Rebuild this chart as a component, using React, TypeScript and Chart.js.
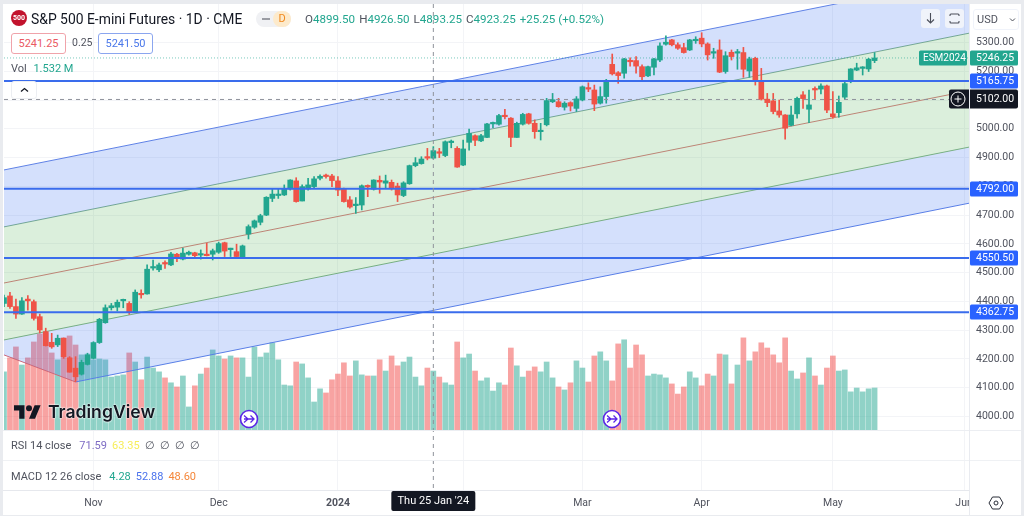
import React, { useEffect, useRef } from "react";
import { Chart, registerables } from "chart.js";

Chart.register(...registerables);

const sessionDays: [string, number[]][] = [
  ["Oct", [11, 12, 13, 16, 17, 18, 19, 20, 23, 24, 25, 26, 27, 30, 31]],
  ["Nov", [1, 2, 3, 6, 7, 8, 9, 10, 13, 14, 15, 16, 17, 20, 21, 22, 24, 27, 28, 29, 30]],
  ["Dec", [1, 4, 5, 6, 7, 8, 11, 12, 13, 14, 15, 18, 19, 20, 21, 22, 26, 27, 28, 29]],
  ["Jan", [2, 3, 4, 5, 8, 9, 10, 11, 12, 16, 17, 18, 19, 22, 23, 24, 25, 26, 29, 30, 31]],
  ["Feb", [1, 2, 5, 6, 7, 8, 9, 12, 13, 14, 15, 16, 20, 21, 22, 23, 26, 27, 28, 29]],
  ["Mar", [1, 4, 5, 6, 7, 8, 11, 12, 13, 14, 15, 18, 19, 20, 21, 22, 25, 26, 27, 28]],
  ["Apr", [1, 2, 3, 4, 5, 8, 9, 10, 11, 12, 15, 16, 17, 18, 19, 22, 23, 24, 25, 26, 29, 30]],
  ["May", [1, 2, 3, 6, 7, 8, 9, 10, 13, 14, 15, 16, 17, 20, 21, 22, 23, 24, 28, 29, 30, 31]],
  ["Jun", [3, 4]],
];
const dateLabels = sessionDays.flatMap(([m, days]) => days.map((d) => `${m} ${d}`));

const tickDates = ["Nov 1", "Dec 1", "Jan 2", "Feb 1", "Mar 1", "Apr 1", "May 1", "Jun 3"];
const tickNames = ["Nov", "Dec", "2024", "Feb", "Mar", "Apr", "May", "Jun"];
const priceTicks = [4000, 4100, 4200, 4300, 4400, 4500, 4600, 4700, 4800, 4900, 5000, 5100, 5200, 5300];

const opens = [
  4393,4419,4382,4356,4408,4399,4347,4295,4258,4249,
  4272,4204,4168,4147,4181,4202,4257,4326,4378,4380,
  4402,4393,4364,4426,4426,4516,4510,4533,4527,4564,
  4547,4564,4569,4561,4564,4564,4571,4604,4580,4573,
  4553,4634,4658,4675,4700,4758,4768,4770,4791,4819,
  4749,4791,4799,4828,4836,4836,4819,4793,4753,4733,
  4735,4801,4790,4821,4811,4814,4801,4768,4809,4872,
  4879,4900,4898,4917,4907,4952,4932,4874,4953,4976,
  4958,4970,5017,5016,5045,5037,4970,5016,5052,5019,
  4990,5014,5094,5094,5075,5091,5071,5100,5141,5135,
  5089,5112,5224,5195,5193,5238,5237,5216,5184,5214,
  5239,5294,5309,5292,5282,5274,5306,5315,5295,5263,
  5274,5199,5266,5263,5265,5201,5245,5167,5103,5097,
  5062,5048,5012,5052,5118,5068,5137,5138,5149,5052,
  5056,5110,5167,5204,5210,5208,5237,
];
const highs = [
  4422,4432,4408,4413,4420,4405,4356,4307,4289,4283,
  4273,4208,4208,4196,4220,4260,4341,4388,4393,4405,
  4408,4399,4440,4440,4527,4544,4533,4541,4571,4567,
  4585,4575,4571,4579,4602,4582,4606,4606,4585,4599,
  4596,4666,4683,4703,4764,4791,4791,4805,4823,4830,
  4805,4828,4834,4840,4843,4842,4834,4794,4764,4761,
  4805,4805,4823,4836,4839,4822,4811,4816,4874,4900,
  4903,4932,4938,4932,4958,4961,4938,4961,4999,4979,
  4981,5019,5023,5050,5068,5039,5023,5054,5054,5031,
  5019,5106,5123,5106,5094,5094,5112,5149,5160,5152,
  5146,5172,5260,5199,5245,5247,5251,5222,5218,5245,
  5299,5323,5311,5299,5297,5311,5320,5334,5299,5280,
  5309,5268,5274,5276,5283,5249,5249,5210,5123,5123,
  5100,5049,5079,5110,5129,5135,5146,5156,5152,5129,
  5114,5167,5209,5228,5216,5245,5265,
];
const lows = [
  4382,4376,4341,4355,4370,4335,4290,4245,4237,4243,
  4202,4154,4121,4144,4179,4200,4254,4324,4370,4367,
  4378,4355,4362,4411,4425,4509,4503,4515,4524,4538,
  4544,4561,4550,4547,4558,4544,4567,4556,4556,4552,
  4552,4617,4654,4666,4698,4747,4758,4768,4787,4745,
  4749,4787,4795,4822,4828,4799,4768,4745,4724,4706,
  4718,4764,4787,4776,4793,4787,4747,4764,4807,4868,
  4877,4892,4895,4900,4903,4934,4866,4872,4926,4941,
  4955,4969,5004,5013,5034,4938,4970,5013,5016,4967,
  4961,5010,5091,5075,5065,5062,5060,5097,5129,5063,
  5086,5089,5187,5158,5176,5218,5193,5170,5181,5187,
  5233,5291,5288,5276,5263,5272,5297,5285,5239,5245,
  5195,5193,5239,5207,5179,5179,5152,5100,5077,5052,
  5040,4964,5010,5037,5071,5021,5103,5121,5056,5037,
  5040,5103,5160,5202,5187,5199,5230,
];
const closes = [
  4413,4382,4356,4402,4402,4341,4301,4246,4242,4272,
  4208,4154,4138,4188,4214,4257,4338,4378,4385,4397,
  4404,4362,4432,4423,4512,4521,4527,4530,4565,4550,
  4568,4571,4559,4564,4559,4576,4601,4575,4582,4556,
  4593,4660,4680,4698,4762,4773,4772,4793,4822,4747,
  4799,4805,4826,4835,4834,4820,4787,4747,4728,4735,
  4802,4798,4822,4815,4819,4795,4770,4812,4872,4882,
  4895,4898,4924,4915,4955,4954,4867,4930,4984,4960,
  4976,5017,5019,5046,5042,4970,5019,5050,5019,4990,
  4995,5098,5101,5077,5089,5079,5104,5146,5138,5086,
  5112,5162,5191,5185,5243,5233,5218,5181,5216,5243,
  5288,5301,5292,5280,5265,5309,5309,5295,5257,5267,
  5197,5254,5251,5265,5207,5243,5167,5103,5091,5060,
  5048,5002,5048,5106,5105,5083,5135,5149,5065,5042,
  5092,5157,5208,5212,5212,5242,5246.25,
];
const volumes = [
  2.12,2.63,3.03,2.37,2.63,3.21,3.5,3.54,2.81,2.56,3.36,3.43,3.1,2.74,2.77,2.56,2.59,2.56,1.93,1.97,2.01,2.81,2.48,1.83,2.66,2.26,2.12,
  1.9,1.72,1.57,1.97,0.84,1.61,2.04,2.26,2.92,2.7,2.59,2.7,2.63,2.63,1.93,3.03,2.66,2.81,3.18,2.56,1.64,1.61,2.48,2.41,1.9,1.02,1.5,1.35,1.83,2.04,
  2.45,1.97,2.52,2.01,1.97,1.97,2.56,2.15,2.7,2.34,2.48,2.66,1.93,1.61,2.26,2.15,1.93,1.72,1.64,3.21,2.63,2.77,2.15,1.79,1.9,1.42,1.72,1.64,2.99,2.34,1.93,2.15,2.3,2.12,2.48,1.9,1.57,1.46,1.72,2.52,2.26,1.75,2.7,2.85,2.52,1.79,3.14,3.29,2.26,3.1,2.74,1.97,2.04,2.01,1.9,1.68,1.31,
  1.57,2.12,1.9,1.61,2.04,1.97,2.77,2.74,1.68,2.37,3.36,2.52,2.85,3.18,2.99,2.74,2.45,3.36,2.15,1.86,2.08,2.63,1.97,1.64,2.26,2.7,2.15,2.19,1.39,1.53,1.39,1.5,1.532,
];

const channelDates = ["Oct 11", "Jun 4"];
const upperBlue = [4857, 5527];
const upperGreen = [4659, 5333];
const midLine = [4464, 5133];
const lowerGreen = [4266, 4937];
const lowerBlueDates = ["Oct 11", "Oct 27", "Jun 4"];
const lowerBlue = [4214, 4120, 4742];
const levelValues = [5165.75, 4792, 4550.5, 4362.75];
const lastPrice = 5246.25;
const crossPrice = 5102;
const crossDate = "Jan 25";
const crossDateLabel = "Thu 25 Jan '24";
const pairs = (dates: string[], vals: number[]) => dates.map((x, i) => ({ x, y: vals[i] }));

const UP = "#22a68f";
const DOWN = "#ef5347";
const FONT = "Roboto, sans-serif";

const overlayPlugin = {
  id: "overlay",
  afterDatasetsDraw(chart: any) {
    const { ctx, chartArea, scales } = chart;
    const xPix = scales.x.getPixelForValue(dateLabels.indexOf(crossDate));
    ctx.save();
    ctx.strokeStyle = "#8f929b";
    ctx.lineWidth = 1;
    ctx.setLineDash([4, 4]);
    ctx.beginPath();
    ctx.moveTo(xPix, chartArea.top);
    ctx.lineTo(xPix, chartArea.bottom);
    ctx.stroke();
    ctx.restore();
  },
  afterDraw(chart: any) {
    const { ctx, scales } = chart;
    const y = scales.y;
    ctx.save();
    ctx.textBaseline = "middle";
    ctx.textAlign = "left";
    ctx.font = `10.5px ${FONT}`;
    const tag = (value: number, text: string, color: string, left = 970) => {
      const py = Math.round(y.getPixelForValue(value));
      ctx.fillStyle = color;
      ctx.beginPath();
      ctx.roundRect(left, py - 7.5, 1018 - left, 15, 1.5);
      ctx.fill();
      ctx.fillStyle = "#fff";
      ctx.fillText(text, 976, py + 0.5);
    };
    levelValues.forEach((v) => tag(v, v.toFixed(2), "#2962ff"));
    // last price + symbol
    const lastY = Math.round(y.getPixelForValue(lastPrice));
    ctx.fillStyle = UP;
    ctx.beginPath();
    ctx.roundRect(919, lastY - 7.5, 48, 15, 1.5);
    ctx.fill();
    ctx.fillStyle = "#fff";
    ctx.font = `10px ${FONT}`;
    ctx.fillText("ESM2024", 923, lastY + 0.5);
    ctx.font = `10.5px ${FONT}`;
    tag(lastPrice, lastPrice.toFixed(2), UP);
    // crosshair price
    const cy = Math.round(y.getPixelForValue(crossPrice));
    ctx.fillStyle = "#131722";
    ctx.beginPath();
    ctx.roundRect(949, cy - 9.5, 69, 19, 2);
    ctx.fill();
    ctx.fillStyle = "#fff";
    ctx.fillText(crossPrice.toFixed(2), 976, cy + 0.5);
    ctx.strokeStyle = "#fff";
    ctx.lineWidth = 1;
    ctx.beginPath();
    ctx.arc(958, cy, 7, 0, Math.PI * 2);
    ctx.moveTo(954.5, cy);
    ctx.lineTo(961.5, cy);
    ctx.moveTo(958, cy - 3.5);
    ctx.lineTo(958, cy + 3.5);
    ctx.stroke();
    // crosshair date
    const xPix = scales.x.getPixelForValue(dateLabels.indexOf(crossDate));
    ctx.fillStyle = "#131722";
    ctx.beginPath();
    ctx.roundRect(xPix - 42, 491, 84, 20, 2);
    ctx.fill();
    ctx.fillStyle = "#fff";
    ctx.textAlign = "center";
    ctx.font = `11px ${FONT}`;
    ctx.fillText(crossDateLabel, xPix, 501.5);
    ctx.restore();
  },
};

const abs = (left: number, top: number, extra: React.CSSProperties = {}): React.CSSProperties => ({
  position: "absolute",
  left,
  top,
  whiteSpace: "nowrap",
  ...extra,
});

const SplitIcon = ({ x }: { x: number }) => (
  <svg style={abs(x - 10, 409)} width="20" height="20" viewBox="0 0 20 20">
    <circle cx="10" cy="10" r="8.5" fill="#fff" stroke="#5b26e6" strokeWidth="1.6" />
    <path d="M5 6.5 L9 10 L5 13.5 M5 10 H14.5 M11.5 6.5 L15 10 L11.5 13.5" fill="none" stroke="#5b26e6" strokeWidth="1.3" />
  </svg>
);

export default function App() {
  const ref = useRef<HTMLCanvasElement>(null);
  useEffect(() => {
    const line = (data: any, color: string, extra: any = {}) => ({
      type: "line",
      data,
      borderColor: color,
      borderWidth: 1,
      pointRadius: 0,
      pointHoverRadius: 0,
      tension: 0,
      fill: false,
      order: 3,
      yAxisID: "y",
      ...extra,
    });
    const candleColor = (i: number) => (closes[i] >= opens[i] ? UP : DOWN);
    const chart = new Chart(ref.current!, {
      type: "bar",
      data: {
        labels: dateLabels,
        datasets: [
          {
            label: "Volume",
            data: volumes,
            yAxisID: "vol",
            order: 6,
            maxBarThickness: 5,
            backgroundColor: volumes.map((_, i) => (closes[i] >= opens[i] ? "rgba(34,166,143,0.5)" : "rgba(242,72,70,0.5)")),
          },
          line(pairs(channelDates, upperBlue), "#5f82e6", { label: "Upper channel", fill: "+1", backgroundColor: "rgba(41,98,240,0.2)" }),
          line(pairs(channelDates, upperGreen), "#7daf8b", { label: "Upper band", fill: "+1", backgroundColor: "rgba(76,175,80,0.2)" }),
          line(pairs(channelDates, midLine), "#c9807a", { label: "Mid line", fill: "+1", backgroundColor: "rgba(76,175,80,0.2)" }),
          line(pairs(channelDates, lowerGreen), "#7daf8b", { label: "Lower band", fill: "+1", backgroundColor: "rgba(41,98,240,0.2)" }),
          line(pairs(lowerBlueDates, lowerBlue), "#5f82e6", {
            label: "Lower channel",
            segment: { borderColor: (c: any) => (c.p0DataIndex === 0 ? "#e0696c" : "#5f82e6") },
          }),
          line(pairs(channelDates, [crossPrice, crossPrice]), "#8f929b", { label: "Crosshair", borderDash: [4, 4], order: 2 }),
          line(pairs(channelDates, [lastPrice, lastPrice]), "rgba(34,166,143,0.6)", { label: "Last", borderDash: [1, 2], order: 2 }),
          ...levelValues.map((v) =>
            line(pairs(channelDates, [v, v]), "#3a6cec", { label: `Level ${v}`, borderWidth: 2, order: 0 })
          ),
          {
            label: "Wicks",
            data: lows.map((l, i) => [l, highs[i]]),
            yAxisID: "y",
            order: 2,
            maxBarThickness: 1,
            backgroundColor: lows.map((_, i) => candleColor(i)),
          },
          {
            label: "Bodies",
            data: opens.map((o, i) => [o, closes[i]]),
            yAxisID: "y",
            order: 1,
            maxBarThickness: 5,
            minBarLength: 1.5,
            backgroundColor: opens.map((_, i) => candleColor(i)),
          },
        ] as any,
      },
      options: {
        animation: false,
        responsive: false,
        devicePixelRatio: 1,
        layout: { padding: { left: 4, top: 4, right: 0, bottom: 0 } },
        datasets: { bar: { grouped: false, categoryPercentage: 1, barPercentage: 1 } },
        plugins: { legend: { display: false }, tooltip: { enabled: false } },
        scales: {
          x: {
            type: "category",
            offset: false,
            border: { display: false },
            grid: { offset: false, color: "#f3f4f7", drawTicks: false },
            afterBuildTicks: (s: any) => {
              s.ticks = s.ticks.filter((t: any) => tickDates.includes(dateLabels[t.value]));
            },
            afterFit: (s: any) => {
              s.height = 26;
              s.paddingLeft = 0;
              s.paddingRight = 0;
            },
            ticks: {
              autoSkip: false,
              maxRotation: 0,
              padding: 7,
              color: "#50535e",
              font: (c: any) => ({ family: "Roboto", size: 10.5, weight: c.tick && c.tick.label === "2024" ? "bold" : "normal" }),
              callback: (v: any) => tickNames[tickDates.indexOf(dateLabels[v])],
            },
          },
          y: {
            position: "right",
            min: 3744.5,
            max: 5433.8,
            border: { display: false },
            grid: { color: "#f3f4f7", drawTicks: false },
            afterBuildTicks: (s: any) => {
              s.ticks = priceTicks.map((value) => ({ value }));
            },
            afterFit: (s: any) => {
              s.width = 54;
              s.paddingTop = 0;
              s.paddingBottom = 0;
            },
            ticks: {
              padding: 6,
              color: "#50535e",
              font: { family: "Roboto", size: 10.5 },
              callback: (v: any) => Number(v).toFixed(2),
            },
          },
          vol: { display: false, min: -2.19, max: 15.54 },
        },
      } as any,
      plugins: [overlayPlugin],
    });
    return () => chart.destroy();
  }, []);

  const g = "#22a68f";
  const ohlc = [
    ["O", "4899.50"],
    ["H", "4926.50"],
    ["L", "4893.25"],
    ["C", "4923.25"],
  ];
  return (
    <div style={{ position: "absolute", left: 0, top: 0, width: 1024, height: 516, background: "#e9ebef", overflow: "hidden", fontFamily: FONT, color: "#131722" }}>
      <div style={abs(3, 4, { width: 1018, height: 511, background: "#fff" })} />
      <canvas ref={ref} width={1024} height={516} style={{ position: "absolute", left: 0, top: 0, width: 1024, height: 516 }} />
      {/* frame masks */}
      <div style={abs(0, 0, { width: 3, height: 516, background: "#e9ebef" })} />
      <div style={abs(1021, 0, { width: 3, height: 516, background: "#e9ebef" })} />
      <div style={abs(0, 0, { width: 1024, height: 4, background: "#e9ebef" })} />
      <div style={abs(0, 515, { width: 1024, height: 1, background: "#e9ebef" })} />
      {/* pane separators */}
      <div style={abs(3, 430, { width: 1018, height: 1, background: "#eceef2" })} />
      <div style={abs(3, 460, { width: 1018, height: 1, background: "#eff1f4" })} />
      <div style={abs(3, 490, { width: 966, height: 1, background: "#e6e8ed" })} />
      <div style={abs(969, 4, { width: 1, height: 511, background: "#e9ebf0" })} />

      {/* header */}
      <div style={abs(11, 10, { width: 16, height: 16, borderRadius: 8, background: "#c2132d", color: "#fff", fontSize: 7, fontWeight: 700, lineHeight: "16px", textAlign: "center" })}>500</div>
      <div style={abs(31, 11, { fontSize: 13.9, lineHeight: "17px" })}>S&amp;P 500 E-mini Futures · 1D · CME</div>
      <div style={abs(256, 11, { width: 35, height: 16, borderRadius: 8, background: "#f0f1f4" })} />
      <div style={abs(273, 11, { width: 18, height: 16, borderRadius: 8, background: "#fdeacb", color: "#f0881e", fontSize: 11, lineHeight: "16px", textAlign: "center" })}>D</div>
      <div style={abs(262, 18, { width: 8, height: 2, background: "#9a9ca3" })} />
      <div style={abs(305, 12, { fontSize: 11.6, lineHeight: "14px", display: "flex", gap: 4 })}>
        {ohlc.map(([k, v]) => (
          <span key={k}>
            <span style={{ color: "#50535e" }}>{k}</span>
            <span style={{ color: g }}>{v}</span>
          </span>
        ))}
        <span style={{ color: g }}>+25.25 (+0.52%)</span>
      </div>
      <div style={abs(11, 33, { width: 53, height: 19, border: "1px solid #f0a3aa", borderRadius: 3, background: "#fff", color: "#ea5a63", fontSize: 11, lineHeight: "19px", textAlign: "center" })}>5241.25</div>
      <div style={abs(72, 36, { fontSize: 10.5, lineHeight: "14px", color: "#50535e" })}>0.25</div>
      <div style={abs(98, 33, { width: 53, height: 19, border: "1px solid #8ba6ef", borderRadius: 3, background: "#fff", color: "#4a78ea", fontSize: 11, lineHeight: "19px", textAlign: "center" })}>5241.50</div>
      <div style={abs(11, 62, { fontSize: 11, lineHeight: "14px", color: "#50535e" })}>
        Vol <span style={{ color: g, marginLeft: 4 }}>1.532 M</span>
      </div>
      <div style={abs(11, 81, { width: 24, height: 16, border: "1px solid #eceef2", borderRadius: 3, background: "#fff" })}>
        <svg width="24" height="16" viewBox="0 0 24 16"><path d="M9 9.5 L12.5 6.5 L16 9.5" fill="none" stroke="#131722" strokeWidth="1.3" /></svg>
      </div>

      {/* top right controls */}
      <div style={abs(921, 9, { width: 19, height: 19, borderRadius: 3, background: "#f0f3fa" })}>
        <svg width="19" height="19" viewBox="0 0 19 19"><path d="M9.5 4 V14 M6 10.5 L9.5 14 L13 10.5" fill="none" stroke="#4a4e59" strokeWidth="1.1" /></svg>
      </div>
      <div style={abs(945, 9, { width: 19, height: 19, borderRadius: 3, background: "#f0f3fa" })}>
        <svg width="19" height="19" viewBox="0 0 19 19"><path d="M5 7 V6 Q5 5 6 5 H13 Q14 5 14 6 V7 M5 12 V13 Q5 14 6 14 H13 Q14 14 14 13 V12" fill="none" stroke="#4a4e59" strokeWidth="1.1" /></svg>
      </div>
      <div style={abs(973, 9, { width: 44, height: 19, border: "1px solid #f0f3fa", borderRadius: 3, background: "#fff" })}>
        <span style={abs(3, 0, { fontSize: 11, lineHeight: "20px", color: "#50535e" })}>USD</span>
        <svg style={abs(35, 7)} width="7" height="6" viewBox="0 0 7 6"><path d="M1 1.5 L3.5 4 L6 1.5" fill="none" stroke="#50535e" strokeWidth="1" /></svg>
      </div>

      {/* watermark */}
      <svg style={abs(14, 405)} width="27" height="14" viewBox="0 4 36 18"><path d="M14 22H7V11H0V4h14v18zM28 22h-8l7.5-18h8L28 22z" fill="#131722" /><circle cx="20" cy="8" r="4" fill="#131722" /></svg>
      <div style={abs(48, 402, { fontFamily: "Inter, sans-serif", fontSize: 17.6, fontWeight: 600, lineHeight: "20px", color: "#131722", textShadow: "0 0 2px #fff, 0 0 2px #fff" })}>TradingView</div>
      <SplitIcon x={249} />
      <SplitIcon x={612} />

      {/* pane legends */}
      <div style={abs(11, 439, { fontSize: 11, lineHeight: "14px", color: "#50535e", display: "flex", gap: 5 })}>
        <span style={{ marginRight: 3 }}>RSI 14 close</span>
        <span style={{ color: "#7e6cc4" }}>71.59</span>
        <span style={{ color: "#f7ee5a" }}>63.35</span>
        <span>∅</span><span>∅</span><span>∅</span><span>∅</span>
      </div>
      <div style={abs(11, 470, { fontSize: 11, lineHeight: "14px", color: "#50535e", display: "flex", gap: 5 })}>
        <span style={{ marginRight: 3 }}>MACD 12 26 close</span>
        <span style={{ color: "#22a68f" }}>4.28</span>
        <span style={{ color: "#4a72ec" }}>52.88</span>
        <span style={{ color: "#f5873a" }}>48.60</span>
      </div>

      {/* bottom right */}
      <div style={abs(970, 491, { width: 51, height: 24, background: "#fff" })} />
      <svg style={abs(988, 495)} width="16" height="16" viewBox="0 0 16 16"><path d="M4.5 2 H11.5 L15 8 L11.5 14 H4.5 L1 8 Z" fill="none" stroke="#2a2e39" strokeWidth="1" /><circle cx="8" cy="8" r="2" fill="none" stroke="#2a2e39" /></svg>
    </div>
  );
}
